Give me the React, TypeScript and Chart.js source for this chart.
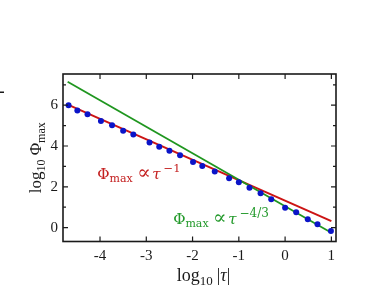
import { useEffect, useRef } from "react";
import { Chart, registerables } from "chart.js";
Chart.register(...registerables);

const pointsX = [-4.68, -4.49, -4.27, -3.98, -3.74, -3.5, -3.28, -2.93, -2.72, -2.5, -2.27, -1.99, -1.79, -1.52, -1.21, -1.0, -0.77, -0.53, -0.3, 0.0, 0.24, 0.49, 0.7, 0.99];
const pointsY = [6.0, 5.74, 5.56, 5.23, 5.02, 4.75, 4.56, 4.17, 3.97, 3.77, 3.55, 3.22, 3.02, 2.75, 2.42, 2.23, 1.96, 1.69, 1.39, 0.98, 0.75, 0.41, 0.17, -0.16];
const redLineX = [-4.72, 1.0];
const redLineY = [6.05, 0.32];
const greenLineX = [-4.7, 1.0];
const greenLineY = [7.15, -0.25];
const xTicks = [-4, -3, -2, -1, 0, 1];
const yTicks = [0, 2, 4, 6];
const yMinorTicks = [1, 3, 5, 7];

const SERIF = '"Liberation Serif", "DejaVu Serif", serif';
const DSERIF = '"DejaVu Serif", "Liberation Serif", serif';

type Part = { t: string; size: number; dy?: number; italic?: boolean; gap?: number; fam?: string };

function partsWidth(ctx: CanvasRenderingContext2D, parts: Part[]) {
  let w = 0;
  for (const p of parts) {
    ctx.font = `${p.italic ? "italic " : ""}${p.size}px ${p.fam || SERIF}`;
    w += (p.gap || 0) + ctx.measureText(p.t).width;
  }
  return w;
}

function drawParts(ctx: CanvasRenderingContext2D, parts: Part[], x: number, y: number, color: string) {
  ctx.fillStyle = color;
  ctx.textBaseline = "alphabetic";
  ctx.textAlign = "left";
  let cx = x;
  for (const p of parts) {
    cx += p.gap || 0;
    ctx.font = `${p.italic ? "italic " : ""}${p.size}px ${p.fam || SERIF}`;
    ctx.fillText(p.t, cx, y + (p.dy || 0));
    cx += ctx.measureText(p.t).width;
  }
}

const framePlugin = {
  id: "framePlugin",
  afterDraw(chart: any) {
    const ctx: CanvasRenderingContext2D = chart.ctx;
    const { left, right, top, bottom } = chart.chartArea;
    const xs = chart.scales.x;
    const ys = chart.scales.y;
    ctx.save();
    ctx.strokeStyle = "#1a1a1a";
    ctx.lineWidth = 1.6;
    ctx.strokeRect(left, top, right - left, bottom - top);
    ctx.lineWidth = 1.2;
    ctx.beginPath();
    for (const v of xTicks) {
      const px = xs.getPixelForValue(v);
      ctx.moveTo(px, bottom);
      ctx.lineTo(px, bottom - 5);
      ctx.moveTo(px, top);
      ctx.lineTo(px, top + 5);
    }
    for (const v of yTicks) {
      const py = ys.getPixelForValue(v);
      ctx.moveTo(left, py);
      ctx.lineTo(left + 5, py);
      ctx.moveTo(right, py);
      ctx.lineTo(right - 5, py);
    }
    for (const v of yMinorTicks) {
      const py = ys.getPixelForValue(v);
      if (py < top || py > bottom) continue;
      ctx.moveTo(left, py);
      ctx.lineTo(left + 3, py);
      ctx.moveTo(right, py);
      ctx.lineTo(right - 3, py);
    }
    ctx.stroke();

    ctx.fillStyle = "#1a1a1a";
    ctx.fillRect(0, 91.5, 4, 1.5);

    const xt: Part[] = [
      { t: "log", size: 18 },
      { t: "10", size: 13, dy: 4 },
      { t: "|", size: 18, gap: 4 },
      { t: "τ", size: 18, italic: true },
      { t: "|", size: 18 },
    ];
    const xw = partsWidth(ctx, xt);
    drawParts(ctx, xt, (left + right) / 2 + 4 - xw / 2, 281, "#1a1a1a");

    const yt: Part[] = [
      { t: "log", size: 17 },
      { t: "10", size: 12, dy: 4 },
      { t: " Φ", size: 17 },
      { t: "max", size: 12, dy: 4 },
    ];
    const yw = partsWidth(ctx, yt);
    ctx.save();
    ctx.translate(41, (top + bottom) / 2);
    ctx.rotate(-Math.PI / 2);
    drawParts(ctx, yt, -yw / 2, 0, "#1a1a1a");
    ctx.restore();

    const red: Part[] = [
      { t: "Φ", size: 15, fam: DSERIF },
      { t: "max", size: 11, dy: 3, fam: DSERIF },
      { t: "∝", size: 20, gap: 4.5, dy: 0.5, fam: DSERIF },
      { t: "τ", size: 15, italic: true, gap: 1.5, fam: DSERIF },
      { t: "−1", size: 11.5, dy: -6.5, gap: 3, fam: DSERIF },
    ];
    drawParts(ctx, red, xs.getPixelForValue(-4.06), ys.getPixelForValue(2.39), "#c42020");
    const green: Part[] = [
      { t: "Φ", size: 15, fam: DSERIF },
      { t: "max", size: 11, dy: 3, fam: DSERIF },
      { t: "∝", size: 20, gap: 4.5, dy: 0.5, fam: DSERIF },
      { t: "τ", size: 15, italic: true, gap: 1.5, fam: DSERIF },
      { t: "−4/3", size: 12, dy: -6.5, gap: 3, fam: DSERIF },
    ];
    drawParts(ctx, green, xs.getPixelForValue(-2.42), ys.getPixelForValue(0.18), "#22992a");
    ctx.restore();
  },
};

export default function App() {
  const ref = useRef<HTMLCanvasElement | null>(null);
  useEffect(() => {
    document.body.style.margin = "0";
    document.body.style.overflow = "hidden";
    const canvas = ref.current;
    if (!canvas) return;
    const tickFont = { family: SERIF, size: 15 };
    const chart = new Chart(canvas, {
      type: "scatter",
      data: {
        datasets: [
          {
            type: "line",
            data: redLineX.map((x, i) => ({ x, y: redLineY[i] })),
            borderColor: "#cc1414",
            borderWidth: 2,
            pointRadius: 0,
            fill: false,
            order: 3,
          },
          {
            type: "line",
            data: greenLineX.map((x, i) => ({ x, y: greenLineY[i] })),
            borderColor: "#1f961f",
            borderWidth: 1.8,
            pointRadius: 0,
            fill: false,
            order: 2,
          },
          {
            type: "scatter",
            data: pointsX.map((x, i) => ({ x, y: pointsY[i] })),
            backgroundColor: "#0b14c8",
            borderWidth: 0,
            pointRadius: 3,
            order: 1,
          },
        ] as any,
      },
      options: {
        animation: false,
        responsive: false,
        maintainAspectRatio: false,
        layout: { padding: { left: 0, top: 74, right: 38, bottom: 0 } },
        plugins: { legend: { display: false }, tooltip: { enabled: false } },
        scales: {
          x: {
            type: "linear",
            min: -4.8,
            max: 1.1,
            afterFit: (s: any) => {
              s.height = 47.5;
            },
            afterBuildTicks: (s: any) => {
              s.ticks = xTicks.map((v) => ({ value: v }));
            },
            grid: { display: false, drawTicks: false },
            border: { display: false },
            ticks: { padding: 6, font: tickFont, color: "#1a1a1a", maxRotation: 0, callback: (v: any) => String(v) },
          },
          y: {
            type: "linear",
            min: -0.68,
            max: 7.53,
            afterFit: (s: any) => {
              s.width = 63;
            },
            afterBuildTicks: (s: any) => {
              s.ticks = yTicks.map((v) => ({ value: v }));
            },
            grid: { display: false, drawTicks: false },
            border: { display: false },
            ticks: { padding: 5, font: tickFont, color: "#1a1a1a", callback: (v: any) => String(v) },
          },
        },
      } as any,
      plugins: [framePlugin],
    });
    return () => chart.destroy();
  }, []);
  return (
    <div style={{ width: 374, height: 289 }}>
      <canvas ref={ref} width={374} height={289} style={{ display: "block", width: 374, height: 289 }} />
    </div>
  );
}
